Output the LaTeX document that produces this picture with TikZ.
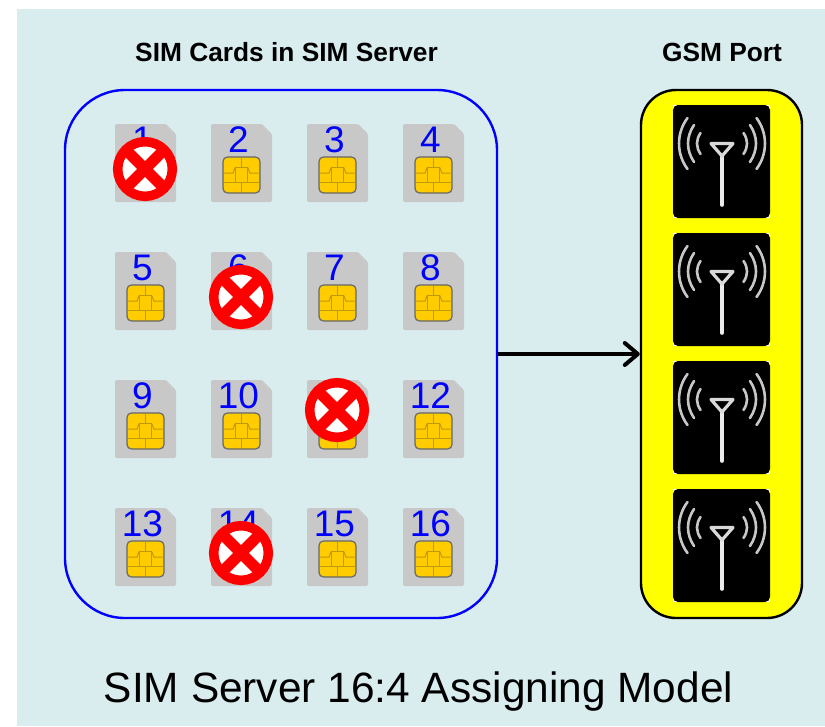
\documentclass[tikz,border=0pt]{standalone}
\usepackage{fontspec}
\usetikzlibrary{arrows.meta}
\setmainfont{Liberation Sans}
\definecolor{panel}{HTML}{D9ECEE}
\definecolor{cardgray}{HTML}{C8C8C8}
\definecolor{chipgold}{HTML}{FFCC00}
\definecolor{chipline}{HTML}{C09A08}
\definecolor{gsmyellow}{RGB}{255,255,0}
\definecolor{signred}{RGB}{255,0,0}
\definecolor{boxblue}{RGB}{0,0,255}
\tikzset{
  simbox/.style={draw=boxblue,line width=2.4pt,rounded corners=60pt,minimum width=432pt,minimum height=528pt},
  gsmbox/.style={draw=black,fill=gsmyellow,line width=2.4pt,rounded corners=35pt,minimum width=161pt,minimum height=528pt},
  simnum/.style={text=boxblue,font=\fontsize{37}{37}\selectfont,anchor=base,inner sep=0pt},
  heading/.style={font=\fontsize{26.3}{26}\selectfont\bfseries,anchor=base,inner sep=0pt},
  wave/.style={line width=2.6pt,white!78!black,line cap=round},
}
\begin{document}
\begin{tikzpicture}[x=1pt,y=-1pt]
\useasboundingbox (0,0) rectangle (825,726);
\fill[panel] (17,9) rectangle (825,726);

\node[heading] (simtitle) at (286.5,61) {SIM Cards in SIM Server};
\node[heading] (gsmtitle) at (722,61) {GSM Port};
\node[simbox] (server) at (281,354) {};
\node[gsmbox] (gsm) at (721.5,354) {};
\draw[-{Straight Barb[length=13pt,width=22pt,line width=4pt,round]},line width=4pt] (server) -- (gsm);

% SIM cards
\foreach \r in {0,...,3}{
\foreach \c in {0,...,3}{
\pgfmathtruncatemacro{\n}{4*\r+\c+1}
\begin{scope}[shift={(115+96*\c,124+128*\r)}]
\fill[cardgray,rounded corners=1.5pt] (0,0) -- (51,0) -- (61,10) -- (61,78) -- (0,78) -- cycle;
\draw[fill=chipgold,draw=black!60,line width=1.2pt,rounded corners=4.5pt] (12,33) rectangle (49,69);
\begin{scope}[chipline,line width=1pt]
\draw (30.5,33.6) -- (30.5,43) (24.5,43) -- (36.5,43) -- (36.5,58) -- (24.5,58) -- cycle;
\draw (12.6,49) -- (22,49) -- (24.5,43) (48.4,49) -- (39,49) -- (36.5,43);
\draw (12.6,58) -- (24.5,58) (36.5,58) -- (48.4,58) (30.5,58) -- (30.5,68.4);
\end{scope}
\node[simnum] (num\n) at (27.5,28) {\n};
\end{scope}
}}

% crossed out cards
\foreach \x/\y in {145/169,241/297,337/410,241/553}{
\begin{scope}[shift={(\x,\y)}]
\draw[signred,fill=white,line width=9.5pt] (0,0) circle (27.3);
\draw[signred,line width=11pt] (-20,-20) -- (20,20) (-20,20) -- (20,-20);
\end{scope}
}

% antennas
\foreach \y in {105,233,361,489}{
\begin{scope}[shift={(673,\y)}]
\fill[white] (0,0) rectangle (97,113);
\fill[black,rounded corners=5pt] (0,0) rectangle (97,113);
\draw[white!92!black,line width=3.6pt,line cap=round] (49,100) -- (49,50);
\draw[white!85!black,line width=3.2pt,line join=round] (49,51) -- (38,38.5) -- (60,38.5) -- cycle;
\foreach \s in {1,-1}{
\begin{scope}[xshift=49,xscale=\s]
\draw[wave] (-34.5,13) .. controls (-45.8,28) and (-45.8,49) .. (-34.5,64);
\draw[wave] (-28,20) .. controls (-36,32) and (-36,45) .. (-28,57);
\draw[wave] (-21.5,28) .. controls (-26.2,35) and (-26.2,42) .. (-21.5,49);
\end{scope}
}
\end{scope}
}

\node[anchor=base,inner sep=0pt,font=\fontsize{42.4}{42}\selectfont] (model) at (418.5,702) {SIM Server 16:4 Assigning Model};
\end{tikzpicture}
\end{document}
